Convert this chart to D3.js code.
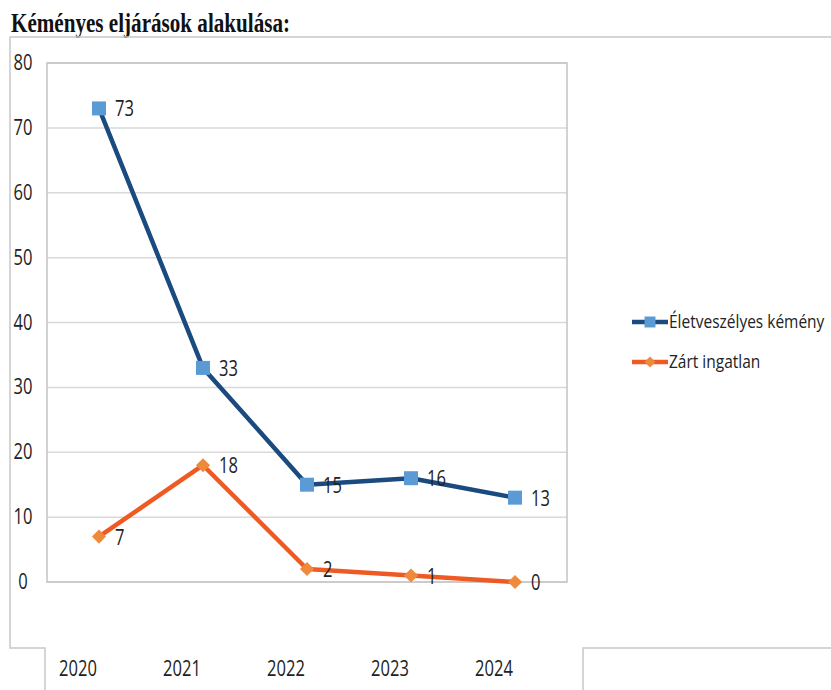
<!DOCTYPE html>
<html>
<head>
<meta charset="utf-8">
<script src="https://cdn.jsdelivr.net/npm/d3@7"></script>
<style>
  body { margin: 0; background: #fff; }
  svg { display: block; }
</style>
</head>
<body>
<div id="chart"></div>
<script>
// Chart data
const years = ["2020", "2021", "2022", "2023", "2024"];
const eletveszelyes = [73, 33, 15, 16, 13];
const zartIngatlan = [7, 18, 2, 1, 0];
const yTicks = [0, 10, 20, 30, 40, 50, 60, 70, 80];
const seriesNames = ["Életveszélyes kémény", "Zárt ingatlan"];

const width = 831;
const height = 690;

// Plot area
const plot = { left: 47, top: 63, right: 567, bottom: 582 };

const svg = d3.select('#chart').append('svg')
    .attr('width', width)
    .attr('height', height);

// Title
svg.append('text')
    .attr('x', 11)
    .attr('y', 32)
    .attr('font-family', 'Liberation Serif')
    .attr('font-weight', 'bold')
    .attr('font-size', 27)
    .attr('textLength', 279)
    .attr('lengthAdjust', 'spacingAndGlyphs')
    .attr('fill', '#111')
    .text('Kéményes eljárások alakulása:');

// Outer chart border (odd stepped shape from the scan)
svg.append('path')
    .attr('d', 'M831,37 H10 V648 H45 V690 M583,690 V648 H831')
    .attr('fill', 'none')
    .attr('stroke', '#c8c8c8')
    .attr('stroke-width', 1.5);

// Scales
const x = d3.scalePoint()
    .domain(years)
    .range([plot.left, plot.right])
    .padding(0.5);

const y = d3.scaleLinear()
    .domain([0, 80])
    .range([plot.bottom, plot.top]);

// tall, slightly narrow text like the scan
function tallText(sel, px, py, anchor, size) {
    return sel.attr('transform', (d, i) => `translate(${px(d, i)},${py(d, i)}) scale(0.92,1.18)`)
        .attr('text-anchor', anchor)
        .attr('font-family', 'Open Sans')
        .attr('font-size', size)
        .attr('fill', '#222');
}

// Gridlines
svg.append('g')
    .selectAll('line')
    .data(yTicks)
    .join('line')
    .attr('x1', plot.left)
    .attr('x2', plot.right)
    .attr('y1', d => y(d))
    .attr('y2', d => y(d))
    .attr('stroke', '#d9d9d9')
    .attr('stroke-width', 1.5);

// Plot border
svg.append('rect')
    .attr('x', plot.left)
    .attr('y', plot.top)
    .attr('width', plot.right - plot.left)
    .attr('height', plot.bottom - plot.top)
    .attr('fill', 'none')
    .attr('stroke', '#c4c4c4')
    .attr('stroke-width', 1.5);

// Y tick labels
tallText(svg.append('g')
    .selectAll('text')
    .data(yTicks)
    .join('text')
    .text(d => d), () => 23, d => y(d) + 7, 'middle', 18);

// X tick labels
tallText(svg.append('g')
    .selectAll('text')
    .data(years)
    .join('text')
    .text(d => d), d => x(d) - 21, () => 676, 'middle', 18);

const line = d3.line()
    .x((d, i) => x(years[i]))
    .y(d => y(d));

// Series lines
svg.append('path')
    .datum(zartIngatlan)
    .attr('d', line)
    .attr('fill', 'none')
    .attr('stroke', '#ee5a24')
    .attr('stroke-width', 4.5)
    .attr('stroke-linejoin', 'round');

svg.append('path')
    .datum(eletveszelyes)
    .attr('d', line)
    .attr('fill', 'none')
    .attr('stroke', '#1a4a7e')
    .attr('stroke-width', 4.5)
    .attr('stroke-linejoin', 'round');

const square = d3.symbol().type(d3.symbolSquare).size(196);
const diamond = d3.symbol().type(d3.symbolSquare).size(100);

// Markers
svg.append('g')
    .selectAll('path')
    .data(zartIngatlan)
    .join('path')
    .attr('transform', (d, i) => `translate(${x(years[i])},${y(d)}) rotate(45)`)
    .attr('d', diamond)
    .attr('fill', '#ef8a3c');

svg.append('g')
    .selectAll('path')
    .data(eletveszelyes)
    .join('path')
    .attr('transform', (d, i) => `translate(${x(years[i])},${y(d)})`)
    .attr('d', square)
    .attr('fill', '#5b9bd5');

// Data labels
function labels(data) {
    tallText(svg.append('g')
        .selectAll('text')
        .data(data)
        .join('text')
        .text(d => d), (d, i) => x(years[i]) + 16, d => y(d) + 8, 'start', 18);
}
labels(eletveszelyes);
labels(zartIngatlan);

// Legend
const legend = svg.append('g');
const legendItems = [
    { name: seriesNames[0], line: '#1a4a7e', marker: d3.symbol().type(d3.symbolSquare).size(120), rot: 0, fill: '#5b9bd5', y: 322 },
    { name: seriesNames[1], line: '#ee5a24', marker: d3.symbol().type(d3.symbolSquare).size(60), rot: 45, fill: '#ef8a3c', y: 362 }
];
legendItems.forEach(item => {
    legend.append('line')
        .attr('x1', 632).attr('x2', 668)
        .attr('y1', item.y).attr('y2', item.y)
        .attr('stroke', item.line)
        .attr('stroke-width', 4.5);
    legend.append('path')
        .attr('transform', `translate(650,${item.y}) rotate(${item.rot})`)
        .attr('d', item.marker)
        .attr('fill', item.fill);
    legend.append('text')
        .attr('transform', `translate(669,${item.y + 6}) scale(1,1.15)`)
        .attr('font-family', 'Open Sans')
        .attr('font-size', 15.5)
        .attr('fill', '#222')
        .text(item.name);
});
</script>
</body>
</html>
